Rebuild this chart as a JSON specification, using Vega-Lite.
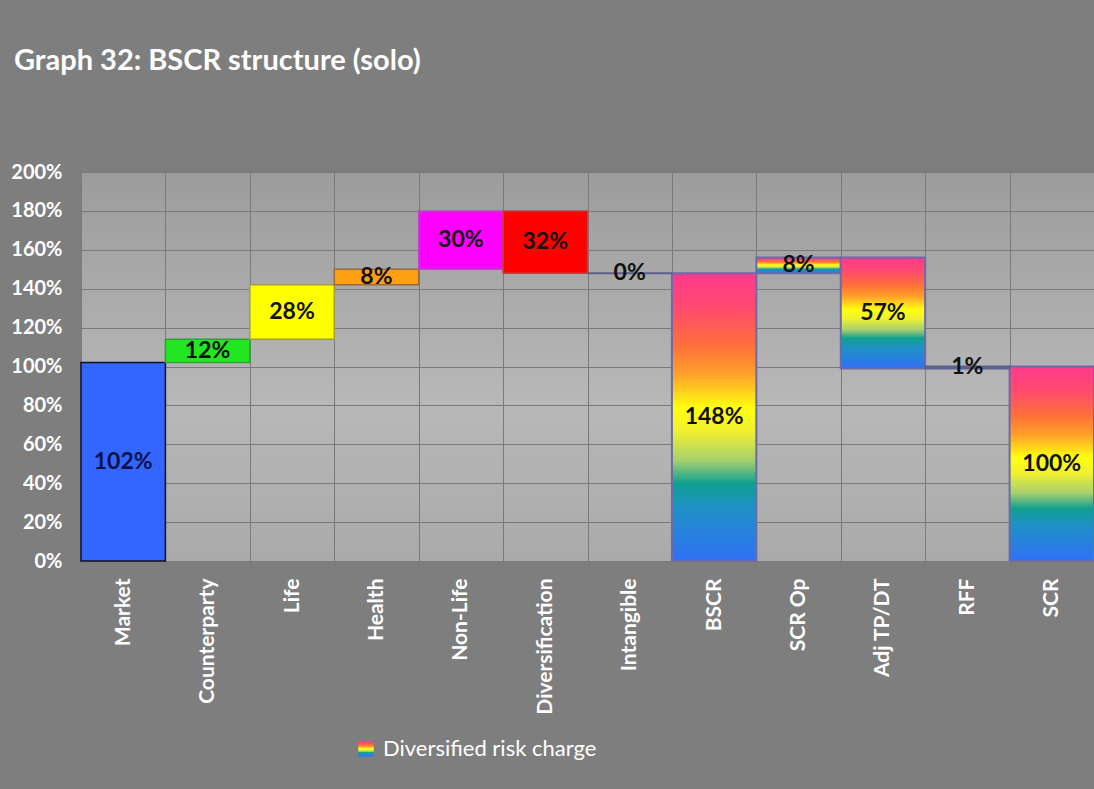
{
  "$schema": "https://vega.github.io/schema/vega-lite/v6.json",
  "width": 1013,
  "height": 389,
  "autosize": {"type": "none"},
  "padding": {"left": 81, "top": 172, "right": 0, "bottom": 228},
  "background": "#7e7e7e",
  "view": {"stroke": null, "fill": {"gradient": "linear", "x1": 0, "y1": 0, "x2": 0, "y2": 1, "stops": [{"offset": 0, "color": "#9c9c9c"}, {"offset": 0.6, "color": "#b8b8b8"}, {"offset": 1, "color": "#aaaaaa"}]}},
  "config": {
    "axisY": {"title": null, "values": [0, 0.2, 0.4, 0.6, 0.8, 1, 1.2, 1.4, 1.6, 1.8, 2], "format": ".0%", "domain": false, "labelOverlap": false, "labelColor": "#ffffff", "labelFont": "Lato", "labelFontWeight": "bold", "labelFontSize": 20, "labelPadding": 15, "tickSize": 4, "tickColor": "#7a7a7a", "gridColor": "#7a7a7a", "gridOpacity": 1}
  },
  "title": {"text": "Graph 32: BSCR structure (solo)", "anchor": "start", "frame": "group", "dx": -67, "offset": 86, "color": "#ffffff", "font": "Lato", "fontSize": 29, "fontWeight": "bold"},
  "data": {"values": [
    {"cat": "Market", "start": 0, "end": 1.02, "label": "102%", "kind": "solid"},
    {"cat": "Counterparty", "start": 1.02, "end": 1.14, "label": "12%", "kind": "solid"},
    {"cat": "Life", "start": 1.14, "end": 1.42, "label": "28%", "kind": "solid"},
    {"cat": "Health", "start": 1.42, "end": 1.50, "label": "8%", "kind": "solid"},
    {"cat": "Non-Life", "start": 1.50, "end": 1.80, "label": "30%", "kind": "solid"},
    {"cat": "Diversification", "start": 1.80, "end": 1.48, "label": "32%", "kind": "solid"},
    {"cat": "Intangible", "start": 1.48, "end": 1.48, "label": "0%", "kind": "line"},
    {"cat": "BSCR", "start": 0, "end": 1.48, "label": "148%", "kind": "gradient"},
    {"cat": "SCR Op", "start": 1.48, "end": 1.56, "label": "8%", "kind": "gradient"},
    {"cat": "Adj TP/DT", "start": 1.56, "end": 0.99, "label": "57%", "kind": "gradient"},
    {"cat": "RFF", "start": 0.99, "end": 1.00, "label": "1%", "kind": "line"},
    {"cat": "SCR", "start": 0, "end": 1.00, "label": "100%", "kind": "gradient"}
  ]},
  "encoding": {
    "x": {
      "field": "cat", "type": "nominal",
      "sort": ["Market", "Counterparty", "Life", "Health", "Non-Life", "Diversification", "Intangible", "BSCR", "SCR Op", "Adj TP/DT", "RFF", "SCR"],
      "scale": {"paddingInner": 0, "paddingOuter": 0},
      "axis": {"title": null, "labelAngle": -90, "tickBand": "extent", "grid": true, "gridColor": "#7a7a7a", "gridOpacity": 1, "domainColor": "#7a7a7a", "tickColor": "#7a7a7a", "tickSize": 5, "labelPadding": 12, "labelColor": "#ffffff", "labelFont": "Lato", "labelFontWeight": "bold", "labelFontSize": 21, "labelOverlap": false}
    }
  },
  "layer": [
    {
      "transform": [{"filter": "datum.kind === 'solid'"}],
      "mark": {"type": "bar", "strokeWidth": 1.5},
      "encoding": {
        "y": {"field": "start", "type": "quantitative", "scale": {"domain": [0, 2], "nice": false}, "axis": {"title": null, "values": [0, 0.2, 0.4, 0.6, 0.8, 1, 1.2, 1.4, 1.6, 1.8, 2]}},
        "y2": {"field": "end"},
        "color": {"field": "cat", "type": "nominal", "legend": null, "scale": {"domain": ["Market", "Counterparty", "Life", "Health", "Non-Life", "Diversification"], "range": ["#3366ff", "#22e622", "#ffff00", "#ffa010", "#ff00ff", "#ff0000"]}},
        "stroke": {"condition": [
          {"test": "datum.cat === 'Market'", "value": "#101020"},
          {"test": "datum.cat === 'Counterparty'", "value": "#3a9a3a"},
          {"test": "datum.cat === 'Life'", "value": "#a0a040"},
          {"test": "datum.cat === 'Health'", "value": "#9a6a3a"},
          {"test": "datum.cat === 'Non-Life'", "value": "#b050c0"}], "value": "#c04040"}
      }
    },
    {
      "transform": [{"filter": "datum.kind === 'gradient'"}],
      "mark": {"type": "bar", "strokeWidth": 2, "fill": {"gradient": "linear", "x1": 0, "y1": 0, "x2": 0, "y2": 1, "stops": [
            {"offset": 0, "color": "#ff3a8c"},
            {"offset": 0.12, "color": "#ff4a70"},
            {"offset": 0.25, "color": "#ff6f3a"},
            {"offset": 0.35, "color": "#ffa02a"},
            {"offset": 0.47, "color": "#ffff10"},
            {"offset": 0.55, "color": "#f0f030"},
            {"offset": 0.65, "color": "#a8d070"},
            {"offset": 0.73, "color": "#10a090"},
            {"offset": 0.82, "color": "#2090c8"},
            {"offset": 1, "color": "#3070f5"}]}},
      "encoding": {
        "y": {"field": "start", "type": "quantitative", "axis": {"title": null, "values": [0, 0.2, 0.4, 0.6, 0.8, 1, 1.2, 1.4, 1.6, 1.8, 2]}},
        "y2": {"field": "end"},
        "stroke": {"datum": "Diversified risk charge", "type": "nominal",
          "scale": {"range": ["#6b6ba8"]},
          "legend": {"orient": "none", "legendX": 274, "legendY": 566, "title": null, "symbolType": "square", "symbolSize": 240, "symbolStrokeWidth": 0, "labelColor": "#ffffff", "labelFont": "Lato", "labelFontSize": 22, "labelOffset": 6, "labelLimit": 500}}
      }
    },
    {
      "transform": [{"filter": "datum.kind === 'line'"}],
      "mark": {"type": "bar", "color": "#5d5f8e", "stroke": "#5d5f8e", "strokeWidth": 2},
      "encoding": {
        "y": {"field": "start", "type": "quantitative", "axis": {"title": null, "values": [0, 0.2, 0.4, 0.6, 0.8, 1, 1.2, 1.4, 1.6, 1.8, 2]}},
        "y2": {"field": "end"}
      }
    },
    {
      "transform": [{"fold": ["start", "end"], "as": ["k", "v"]}],
      "mark": {"type": "text", "font": "Lato", "fontWeight": "bold", "fontSize": 23, "baseline": "middle"},
      "encoding": {
        "y": {"aggregate": "mean", "field": "v", "type": "quantitative", "axis": {"title": null, "values": [0, 0.2, 0.4, 0.6, 0.8, 1, 1.2, 1.4, 1.6, 1.8, 2]}},
        "text": {"field": "label", "type": "nominal"},
        "color": {"condition": {"test": "datum.cat === 'Market'", "value": "#0a1248"}, "value": "#111111"}
      }
    }
  ]
}
